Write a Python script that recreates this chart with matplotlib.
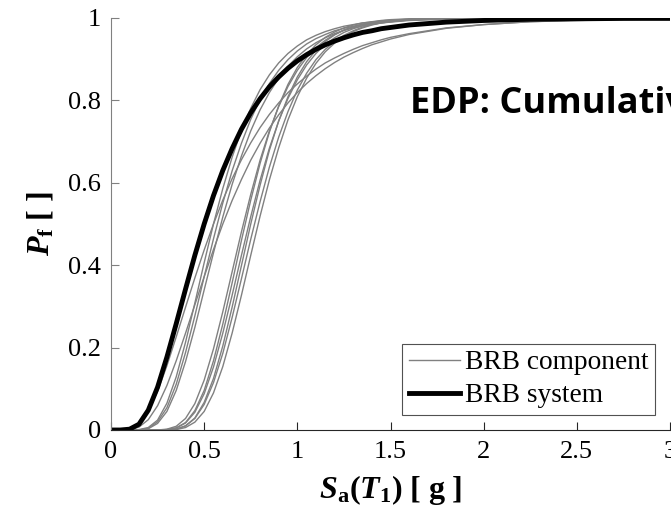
import matplotlib
matplotlib.use('Agg')
import matplotlib.pyplot as plt

plt.rcParams['mathtext.fontset'] = 'custom'
plt.rcParams['mathtext.rm'] = 'Liberation Serif'
plt.rcParams['mathtext.it'] = 'Liberation Serif:italic'
plt.rcParams['mathtext.bf'] = 'Liberation Serif:bold'
plt.rcParams['mathtext.bfit'] = 'Liberation Serif:italic:bold'
plt.rcParams['font.family'] = 'Liberation Serif'

# Spectral acceleration Sa(T1) [g] at which the curves were read
sa = [0.0, 0.05, 0.1, 0.15, 0.2, 0.25, 0.3, 0.35, 0.4, 0.45, 0.5, 0.55, 0.6, 0.65, 0.7, 0.75,
      0.8, 0.85, 0.9, 0.95, 1.0, 1.05, 1.1, 1.15, 1.2, 1.25, 1.3, 1.35, 1.4, 1.45, 1.5,
      1.6, 1.8, 2.0, 2.25, 2.5, 2.75, 3.0]

# BRB system fragility (thick black)
system = [0, 0, .002, .014, .048, .104, .177, .258, .342, .424, .500, .569, .630, .683, .730, .770,
          .804, .833, .857, .878, .896, .911, .924, .935, .944, .952, .959, .965, .969, .974, .977,
          .983, .990, .994, .997, .998, .999, .999]

# BRB component fragilities (thin grey)
comp1 = [0, 0, 0, .001, .006, .024, .065, .129, .213, .308, .406, .500, .586, .662, .727, .781,
         .826, .862, .891, .914, .932, .947, .958, .967, .974, .980, .984, .988, .990, .992, .994,
         .996, .998, .999, 1, 1, 1, 1]
comp2 = [0, 0, 0, 0, .004, .020, .054, .111, .188, .277, .372, .464, .551, .629, .696, .754,
         .802, .841, .873, .899, .920, .937, .950, .960, .969, .975, .980, .984, .988, .990, .992,
         .995, .998, .999, 1, 1, 1, 1]
comp3 = [0, 0, 0, 0, .003, .016, .045, .096, .166, .249, .340, .430, .517, .596, .665, .726,
         .777, .819, .854, .883, .906, .925, .940, .952, .962, .970, .976, .981, .985, .988, .990,
         .994, .997, .999, 1, 1, 1, 1]
comp4 = [0, 0, .002, .015, .046, .094, .156, .226, .298, .369, .437, .500, .558, .610, .656, .697,
         .734, .766, .794, .819, .840, .859, .876, .891, .903, .914, .924, .933, .940, .947, .953,
         .962, .976, .984, .991, .994, .996, .998]
comp5 = [0, 0, .001, .007, .025, .059, .108, .168, .235, .304, .372, .438, .500, .557, .608, .655,
         .696, .733, .765, .794, .819, .841, .860, .877, .892, .905, .916, .926, .935, .942, .949,
         .960, .975, .984, .991, .995, .997, .998]
comp6 = [0, 0, 0, 0, 0, 0, .002, .009, .028, .064, .121, .197, .287, .384, .481, .572,
         .655, .726, .785, .834, .873, .904, .928, .946, .960, .970, .978, .984, .988, .991, .994,
         .997, .999, 1, 1, 1, 1, 1]
comp7 = [0, 0, 0, 0, 0, 0, .001, .005, .018, .047, .096, .168, .257, .357, .460, .558,
         .647, .723, .787, .839, .880, .911, .935, .953, .966, .976, .983, .988, .991, .994, .996,
         .998, .999, 1, 1, 1, 1, 1]
comp8 = [0, 0, 0, 0, 0, 0, .001, .005, .017, .043, .088, .153, .235, .327, .424, .518,
         .606, .684, .750, .805, .850, .886, .914, .936, .952, .965, .974, .981, .986, .990, .993,
         .996, .999, 1, 1, 1, 1, 1]
comp9 = [0, 0, 0, 0, 0, 0, 0, .002, .010, .029, .067, .125, .204, .298, .399, .500,
         .594, .679, .750, .809, .857, .894, .922, .943, .959, .971, .979, .985, .990, .993, .995,
         .997, .999, 1, 1, 1, 1, 1]
comp10 = [0, 0, 0, 0, 0, 0, 0, .002, .010, .028, .062, .115, .186, .273, .367, .463,
          .554, .638, .711, .773, .825, .866, .899, .924, .943, .958, .969, .978, .984, .988, .991,
          .995, .999, 1, 1, 1, 1, 1]
comp11 = [0, 0, 0, 0, 0, 0, 0, .001, .006, .019, .045, .090, .154, .235, .327, .424,
          .519, .607, .685, .753, .809, .854, .890, .918, .939, .955, .967, .976, .983, .988, .991,
          .996, .999, 1, 1, 1, 1, 1]
components = [comp1, comp2, comp3, comp4, comp5, comp6, comp7, comp8, comp9, comp10, comp11]

xticks = [0, 0.5, 1, 1.5, 2, 2.5, 3]
xticklabels = ['0', '0.5', '1', '1.5', '2', '2.5', '3']
yticks = [0, 0.2, 0.4, 0.6, 0.8, 1]
yticklabels = ['0', '0.2', '0.4', '0.6', '0.8', '1']

fig = plt.figure(figsize=(6.71, 5.14), dpi=100)
ax = fig.add_axes([111 / 671, 1 - 430 / 514, (670 - 111) / 671, 412 / 514])
for i, c in enumerate(components):
    ax.plot(sa, c, color='0.5', lw=1.0, label='BRB component' if i == 0 else None)
ax.plot(sa, system, color='black', lw=3.5, label='BRB system', solid_joinstyle='round')

ax.set_xlim(0, 3)
ax.set_ylim(0, 1)
ax.spines['top'].set_visible(False)
ax.spines['right'].set_visible(False)
ax.spines['left'].set_color('0.5')
ax.spines['bottom'].set_color('0.15')
ax.set_xticks(xticks)
ax.set_xticklabels(xticklabels)
ax.set_yticks(yticks)
ax.set_yticklabels(yticklabels)
ax.tick_params(direction='in', length=6, labelsize=19, pad=8)
ax.tick_params(axis='y', colors='0.5', labelcolor='black', pad=7)
ax.tick_params(axis='x', colors='0.15', labelcolor='black')

ax.set_xlabel(r'$\mathbfit{S}_{\mathbf{a}}\mathbf{(}\mathbfit{T}_{\mathbf{1}}\mathbf{)\ [\ g\ ]}$',
              fontsize=23, labelpad=7)
ax.set_ylabel(r'$\mathbfit{P}_{\mathbf{f}}\mathbf{\ [\ ]}$', fontsize=23, labelpad=9)

leg = ax.legend(loc='lower right', bbox_to_anchor=(655 / 671, 1 - 415 / 514), bbox_transform=fig.transFigure,
                borderaxespad=0, fontsize=19.7, frameon=True, fancybox=False, edgecolor='0.15',
                handlelength=1.86, handletextpad=0.18, labelspacing=0.29, borderpad=0.24)
leg.get_frame().set_linewidth(0.8)

fig.text(410 / 671, 1 - 113 / 514, 'EDP: Cumulative', fontsize=26, fontweight='bold',
         family='Open Sans', va='baseline')

fig.savefig('out.png', dpi=100)
